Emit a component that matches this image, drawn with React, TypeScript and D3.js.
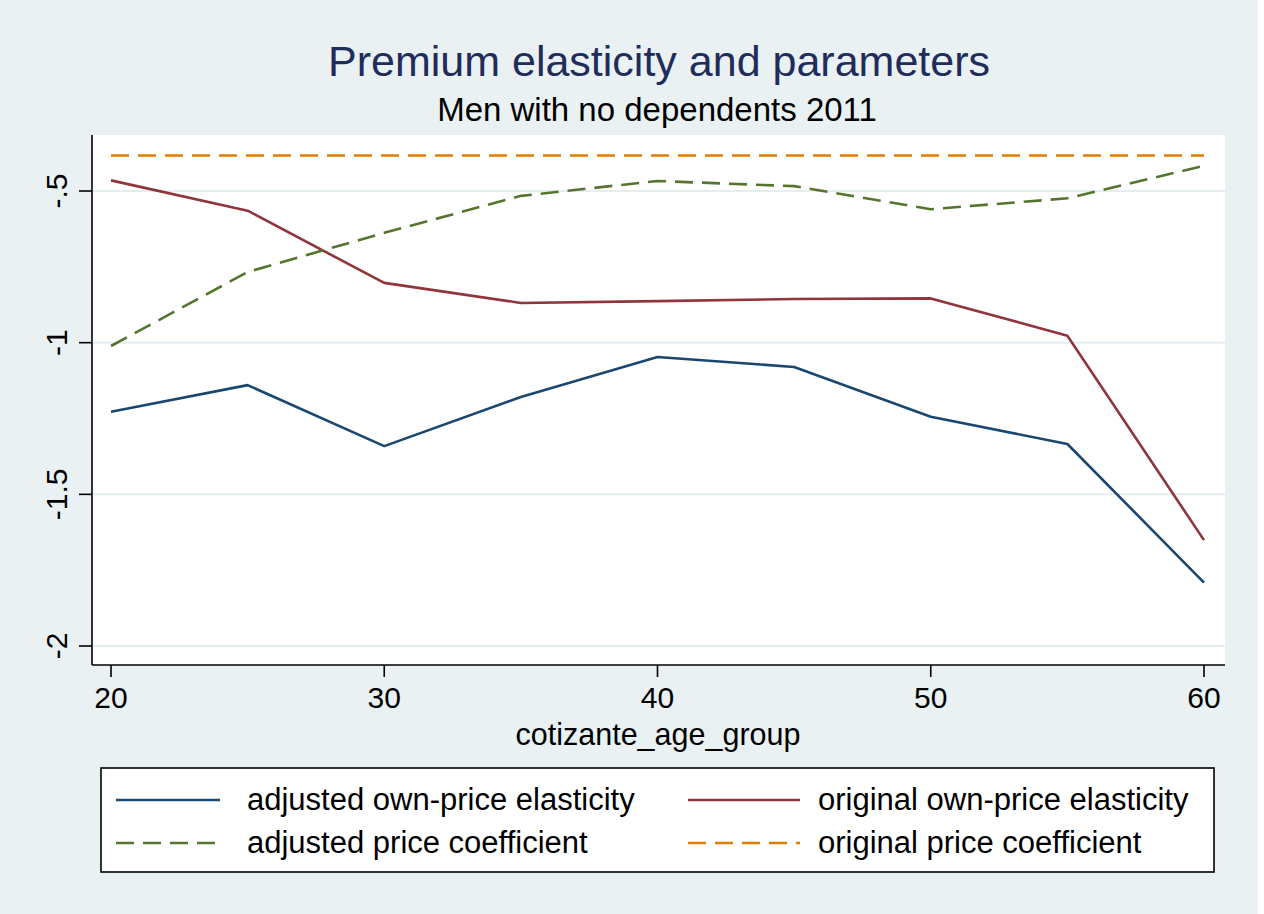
import React from "react";
import * as d3 from "d3";

const ages = [20, 25, 30, 35, 40, 45, 50, 55, 60];
const adjustedElasticity = [-1.228, -1.14, -1.341, -1.179, -1.047, -1.08, -1.244, -1.334, -1.791];
const originalElasticity = [-0.465, -0.565, -0.803, -0.869, -0.863, -0.856, -0.854, -0.977, -1.651];
const adjustedCoefficient = [-1.011, -0.767, -0.638, -0.516, -0.467, -0.484, -0.56, -0.524, -0.417];
const originalCoefficient = [-0.383, -0.383, -0.383, -0.383, -0.383, -0.383, -0.383, -0.383, -0.383];

const xTicks = [20, 30, 40, 50, 60];
const yTicks = [-0.5, -1, -1.5, -2];
const yTickLabels = ["-.5", "-1", "-1.5", "-2"];

const seriesNames = [
  "adjusted own-price elasticity",
  "original own-price elasticity",
  "adjusted price coefficient",
  "original price coefficient",
];

const W = 1264;
const H = 914;
const FONT = "'Liberation Sans', Arial, Helvetica, sans-serif";

export default function App() {
  const plot = { left: 92, right: 1225, top: 135, bottom: 665 };
  const x = d3.scaleLinear().domain([20, 60]).range([111, 1204]);
  const y = d3.scaleLinear().domain([-2, -0.5]).range([646, 191]);

  const series = [
    { name: seriesNames[0], values: adjustedElasticity, color: "#1a476f", dash: "" },
    { name: seriesNames[1], values: originalElasticity, color: "#90353b", dash: "" },
    { name: seriesNames[2], values: adjustedCoefficient, color: "#55752f", dash: "18 9" },
    { name: seriesNames[3], values: originalCoefficient, color: "#e37e00", dash: "18 9" },
  ];

  const line = d3
    .line<[number, number]>()
    .x((d) => x(d[0]))
    .y((d) => y(d[1]));

  const legendCols = [
    { lineX1: 116, lineX2: 220, textX: 247 },
    { lineX1: 688, lineX2: 800, textX: 818 },
  ];
  const legendRows = [800, 843];

  return (
    <svg
      width={W}
      height={H}
      style={{ display: "block", position: "absolute", left: 0, top: 0 }}
      fontFamily={FONT}
    >
      <rect x={0} y={0} width={1258} height={H} fill="#e9f1f3" />
      <rect x={1258} y={0} width={6} height={H} fill="#ffffff" />
      <rect
        x={plot.left}
        y={plot.top}
        width={plot.right - plot.left}
        height={plot.bottom - plot.top}
        fill="#ffffff"
      />
      {/* gridlines */}
      {yTicks.map((t) => (
        <line
          key={"g" + t}
          x1={plot.left}
          x2={plot.right}
          y1={y(t)}
          y2={y(t)}
          stroke="#e4edf0"
          strokeWidth={2}
        />
      ))}
      {/* titles */}
      <text x={659} y={76} textAnchor="middle" fontSize={43} fill="#1f2c5c">
        Premium elasticity and parameters
      </text>
      <text x={657} y={121} textAnchor="middle" fontSize={33} fill="#000">
        Men with no dependents 2011
      </text>
      {/* data lines */}
      {series.map((s) => (
        <path
          key={s.name}
          d={line(ages.map((a, i) => [a, s.values[i]]) as [number, number][]) || ""}
          fill="none"
          stroke={s.color}
          strokeWidth={2.6}
          strokeDasharray={s.dash || undefined}
          strokeLinejoin="round"
        />
      ))}
      {/* axes */}
      <line x1={plot.left} x2={plot.left} y1={plot.top} y2={plot.bottom} stroke="#000" strokeWidth={1.6} />
      <line x1={plot.left} x2={plot.right} y1={plot.bottom} y2={plot.bottom} stroke="#000" strokeWidth={1.6} />
      {yTicks.map((t, i) => (
        <g key={"yt" + t}>
          <line x1={plot.left - 13} x2={plot.left} y1={y(t)} y2={y(t)} stroke="#000" strokeWidth={1.6} />
          <text
            transform={`translate(${67},${y(t)}) rotate(-90)`}
            textAnchor="middle"
            fontSize={30}
            fill="#000"
          >
            {yTickLabels[i]}
          </text>
        </g>
      ))}
      {xTicks.map((t) => (
        <g key={"xt" + t}>
          <line x1={x(t)} x2={x(t)} y1={plot.bottom} y2={plot.bottom + 12} stroke="#000" strokeWidth={1.6} />
          <text x={x(t)} y={708} textAnchor="middle" fontSize={30} fill="#000">
            {t}
          </text>
        </g>
      ))}
      <text x={658} y={745} textAnchor="middle" fontSize={30.5} fill="#000">
        cotizante_age_group
      </text>
      {/* legend */}
      <rect x={101} y={768} width={1113} height={104} fill="#ffffff" stroke="#000" strokeWidth={1.6} />
      {series.map((s, i) => {
        const col = legendCols[i % 2];
        const rowY = legendRows[Math.floor(i / 2)];
        return (
          <g key={"lg" + s.name}>
            <line
              x1={col.lineX1}
              x2={col.lineX2}
              y1={rowY}
              y2={rowY}
              stroke={s.color}
              strokeWidth={2.6}
              strokeDasharray={s.dash || undefined}
            />
            <text x={col.textX} y={rowY + 10} fontSize={31} fill="#000">
              {s.name}
            </text>
          </g>
        );
      })}
    </svg>
  );
}
